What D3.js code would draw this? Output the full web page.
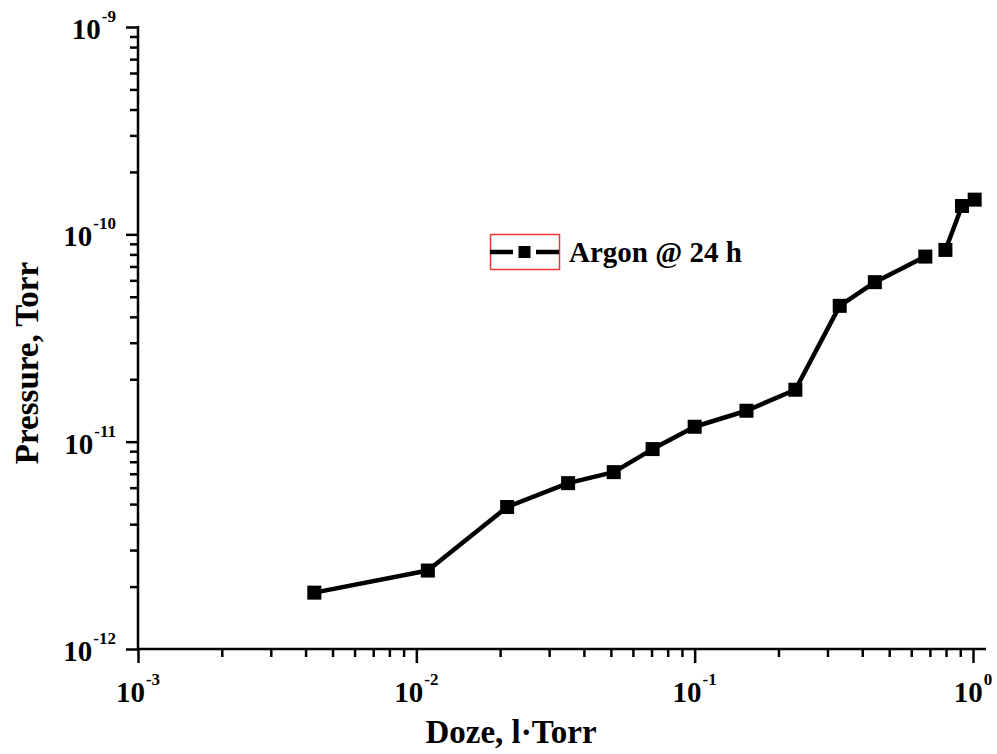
<!DOCTYPE html>
<html>
<head>
<meta charset="utf-8">
<script src="https://cdn.jsdelivr.net/npm/d3@7"></script>
<style>
    body { margin: 0; background: #fff; }
    svg { display: block; }
    text { font-family: "Liberation Serif", "Times New Roman", serif; font-weight: bold; fill: #000; }
</style>
</head>
<body>
<svg id="svg" width="997" height="754"></svg>
<script>
// Dose (l·Torr) and pressure (Torr)
const dose = [0.0043, 0.011, 0.0212, 0.0351, 0.0512, 0.0706, 0.100, 0.1535, 0.230, 0.332, 0.444, 0.674, 0.796, 0.913, 1.014];
const pressure = [1.87e-12, 2.39e-12, 4.84e-12, 6.31e-12, 7.13e-12, 9.21e-12, 1.18e-11, 1.41e-11, 1.78e-11, 4.52e-11, 5.88e-11, 7.81e-11, 8.41e-11, 1.37e-10, 1.47e-10];
const breakAfter = 11;              // the original has no segment between point 12 and 13

const seriesName = "Argon @ 24 h";
const xTitle = "Doze, l\u00B7Torr";
const yTitle = "Pressure, Torr";
const xDecades = [-3, -2, -1, 0];
const yDecades = [-12, -11, -10, -9];

const svg = d3.select('#svg');

const x = d3.scaleLog().domain([1e-3, 1]).range([138, 973]);
const y = d3.scaleLog().domain([1e-12, 1e-9]).range([649, 27]);

function majorTicks(decades)
{
    return decades.map(d => +('1e' + d));
}

function minorTicks(decades)
{
    var result = [];
    for (var index = 0; index < decades.length - 1; index ++)
    {
        for (var m = 2; m <= 9; m ++)
        {
            result.push(+(m + 'e' + decades[index]));
        }
    }
    return result;
}

function styleTicks(g)
{
    g.select('.domain').remove();
    g.selectAll('.tick line').attr('stroke', '#000').attr('stroke-width', 2.5);
}

// Ticks (outward), major and minor separately
svg.append('g').attr('transform', 'translate(0,649)')
    .call(d3.axisBottom(x).tickValues(minorTicks(xDecades)).tickSize(8).tickFormat(''))
    .call(styleTicks);
svg.append('g').attr('transform', 'translate(0,649)')
    .call(d3.axisBottom(x).tickValues(majorTicks(xDecades)).tickSize(14).tickFormat(''))
    .call(styleTicks);
svg.append('g').attr('transform', 'translate(138,0)')
    .call(d3.axisLeft(y).tickValues(minorTicks(yDecades)).tickSize(8).tickFormat(''))
    .call(styleTicks);
svg.append('g').attr('transform', 'translate(138,0)')
    .call(d3.axisLeft(y).tickValues(majorTicks(yDecades)).tickSize(12).tickFormat(''))
    .call(styleTicks);

// Axis lines
svg.append('line').attr('x1', 138).attr('x2', 986).attr('y1', 649).attr('y2', 649)
    .attr('stroke', '#000').attr('stroke-width', 2.5);
svg.append('line').attr('x1', 138).attr('x2', 138).attr('y1', 26).attr('y2', 649)
    .attr('stroke', '#000').attr('stroke-width', 2.5);

// Power-of-ten tick labels
function powerLabel(sel, exponent)
{
    sel.append('tspan').attr('font-size', 29).text('10');
    sel.append('tspan').attr('font-size', 17).attr('dy', -17).attr('dx', 1).text(exponent);
}

xDecades.forEach(d => {
    svg.append('text')
        .attr('x', x(+('1e' + d)))
        .attr('y', 702)
        .attr('text-anchor', 'middle')
        .call(powerLabel, d);
});

yDecades.forEach(d => {
    svg.append('text')
        .attr('x', 116)
        .attr('y', y(+('1e' + d)) + 12)
        .attr('text-anchor', 'end')
        .call(powerLabel, d);
});

// Axis titles
svg.append('text')
    .attr('x', 511).attr('y', 743)
    .attr('text-anchor', 'middle')
    .attr('font-size', 33)
    .text(xTitle);

svg.append('text')
    .attr('transform', 'translate(38,363) rotate(-90)')
    .attr('text-anchor', 'middle')
    .attr('font-size', 33)
    .text(yTitle);

// Series line, drawn in two pieces
const points = dose.map((d, i) => [d, pressure[i]]);
const line = d3.line().x(d => x(d[0])).y(d => y(d[1]));
[points.slice(0, breakAfter + 1), points.slice(breakAfter + 1)].forEach(part => {
    svg.append('path')
        .attr('d', line(part))
        .attr('fill', 'none')
        .attr('stroke', '#000')
        .attr('stroke-width', 4.5)
        .attr('stroke-linejoin', 'round');
});

const markerSize = 14;
svg.append('g').selectAll('rect')
    .data(points)
    .join('rect')
        .attr('x', d => x(d[0]) - markerSize / 2)
        .attr('y', d => y(d[1]) - markerSize / 2)
        .attr('width', markerSize)
        .attr('height', markerSize)
        .attr('fill', '#000');

// Legend
const legend = svg.append('g');
legend.append('rect')
    .attr('x', 490.5).attr('y', 234.5).attr('width', 69).attr('height', 35)
    .attr('fill', 'none').attr('stroke', '#e8393a').attr('stroke-width', 1.5);
legend.append('line').attr('x1', 490).attr('x2', 513).attr('y1', 252).attr('y2', 252)
    .attr('stroke', '#000').attr('stroke-width', 4.5);
legend.append('line').attr('x1', 536).attr('x2', 559).attr('y1', 252).attr('y2', 252)
    .attr('stroke', '#000').attr('stroke-width', 4.5);
legend.append('rect').attr('x', 518.5).attr('y', 246).attr('width', 12).attr('height', 12).attr('fill', '#000');
legend.append('text')
    .attr('x', 569).attr('y', 262)
    .attr('font-size', 29)
    .text(seriesName);
</script>
</body>
</html>
